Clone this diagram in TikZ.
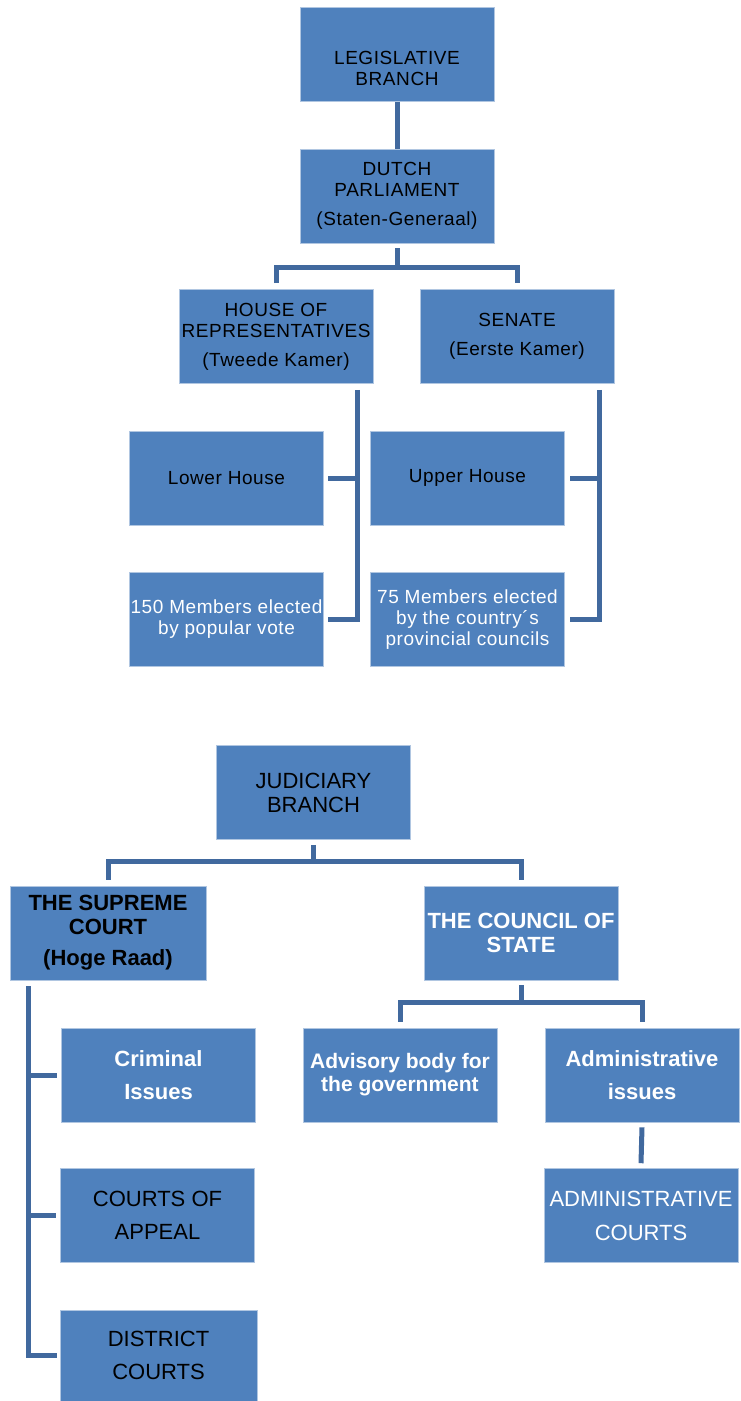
\documentclass[tikz,border=0pt]{standalone}
\usepackage{fontspec}
\setmainfont{Liberation Sans}
\newfontfamily\spacedfont[LetterSpace=3]{Liberation Sans}
\definecolor{boxblue}{HTML}{4F81BD}
\definecolor{linkblue}{HTML}{41699E}

\begin{document}
\begin{tikzpicture}[x=1pt,y=-1pt,
    box/.style={fill=boxblue, draw=white!55!boxblue, line width=0.6pt, minimum width=194pt, minimum height=94pt, inner sep=0pt, align=center},
    legbox/.style={box, font=\spacedfont\fontsize{19}{21}\selectfont},
    judbox/.style={box, font=\fontsize{22}{24}\selectfont},
    judbold/.style={box, font=\bfseries\fontsize{22}{24}\selectfont},
    link/.style={draw=linkblue, line width=5pt}]
    \useasboundingbox (0,0) rectangle (740,1401);

    % Legislative branch
    \node[legbox, text height=62pt] (leg) at (397,54.5) {LEGISLATIVE\\BRANCH};
    \node[legbox] (dutch) at (397,196) {DUTCH\\PARLIAMENT\\[8pt](Staten-Generaal)};
    \node[legbox] (house) at (276,336.5) {HOUSE OF\\REPRESENTATIVES\\[8pt](Tweede Kamer)};
    \node[legbox] (senate) at (517,336.5) {SENATE\\[8pt](Eerste Kamer)};
    \node[legbox] (lowerhouse) at (226.5,478) {Lower House};
    \node[legbox, text=white] (members150) at (226.5,619.5) {150 Members elected\\by popular vote};
    \node[legbox] (upperhouse) at (467.5,478) {Upper House};
    \node[legbox, text=white] (members75) at (467.5,619.5) {75 Members elected\\by the country´s\\provincial councils};

    \draw[link] (leg) -- (dutch);
    \draw[link] ([yshift=-5pt]dutch.south) -- ([yshift=-24pt]dutch.south);
    \draw[link] ([yshift=6pt]house.north) |- ([yshift=-24pt]dutch.south) -| ([yshift=6pt]senate.north);

    \coordinate (hbar) at ([xshift=-16pt,yshift=-6pt]house.south east);
    \draw[link] (hbar) |- ([xshift=4pt]members150.east);
    \draw[link] (hbar |- lowerhouse.east) -- ([xshift=4pt]lowerhouse.east);
    \coordinate (sbar) at ([xshift=-15pt,yshift=-6pt]senate.south east);
    \draw[link] (sbar) |- ([xshift=5pt]members75.east);
    \draw[link] (sbar |- upperhouse.east) -- ([xshift=5pt]upperhouse.east);

    % Judiciary branch
    \node[judbox] (jud) at (313.5,792.5) {JUDICIARY\\BRANCH};
    \node[judbold, minimum width=196pt] (supreme) at (108,933) {THE SUPREME\\COURT\\[7pt](Hoge Raad)};
    \node[judbold, text=white] (council) at (521,933) {THE COUNCIL OF\\STATE};
    \node[judbold, text=white, font=\bfseries\fontsize{22}{33}\selectfont] (criminal) at (158.5,1075) {Criminal\\Issues};
    \node[judbold, text=white, font=\bfseries\fontsize{21}{23}\selectfont] (advisory) at (400,1075) {Advisory body for\\the government};
    \node[judbold, text=white, font=\bfseries\fontsize{22}{33}\selectfont] (adminiss) at (642,1075) {Administrative\\issues};
    \node[judbox, font=\fontsize{22}{33}\selectfont] (appeal) at (157.5,1215.5) {COURTS OF\\APPEAL};
    \node[judbox, font=\fontsize{22}{33}\selectfont, minimum width=197pt, minimum height=91pt] (district) at (158.5,1355.5) {DISTRICT\\COURTS};
    \node[judbox, text=white, font=\fontsize{22}{34}\selectfont] (admincourts) at (641,1215.5) {ADMINISTRATIVE\\COURTS};

    \draw[link] ([yshift=-5pt]jud.south) -- ([yshift=-22pt]jud.south);
    \draw[link] ([yshift=6pt]supreme.north) |- ([yshift=-22pt]jud.south) -| ([yshift=6pt]council.north);
    \draw[link] ([yshift=-5pt]council.south) -- ([yshift=-22pt]council.south);
    \draw[link] ([yshift=6pt]advisory.north) |- ([yshift=-22pt]council.south) -| ([yshift=6pt]adminiss.north);

    \coordinate (cbar) at ([xshift=19pt,yshift=-6pt]supreme.south west);
    \draw[link] (cbar) |- ([xshift=-3pt]district.west);
    \foreach \n in {criminal,appeal}
        \draw[link] (cbar |- \n.west) -- ([xshift=-4pt]\n.west);
    \draw[link] ([yshift=-5pt]adminiss.south) -- ([yshift=5pt]admincourts.north);
\end{tikzpicture}
\end{document}
